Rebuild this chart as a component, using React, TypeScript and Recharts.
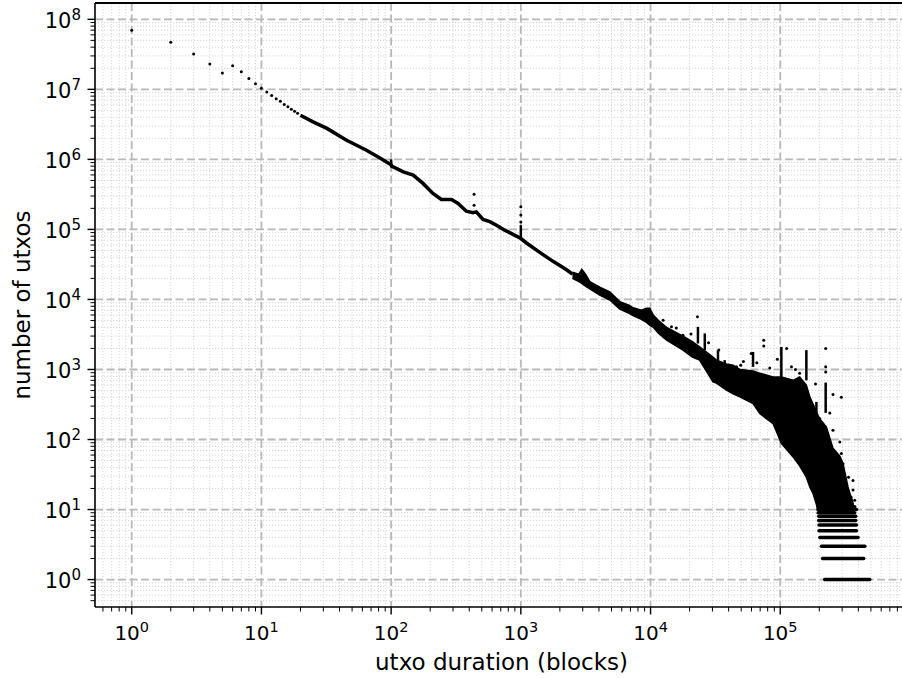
import {
  ComposedChart,
  Scatter,
  Line,
  Area,
  XAxis,
  YAxis,
  CartesianGrid,
  ReferenceLine,
} from "recharts";

const FONT = "DejaVu Sans, Verdana, sans-serif";

// axis limits (matplotlib style 5% log margins)
const X_MIN = 0.521;
const X_MAX = 966000;
const Y_MIN = 0.406;
const Y_MAX = 1.71e8;

const X_MAJOR = [1, 10, 100, 1000, 10000, 100000];
const X_EXP = ["0", "1", "2", "3", "4", "5"];
const Y_MAJOR = [1, 10, 100, 1000, 10000, 100000, 1e6, 1e7, 1e8];
const Y_EXP = ["0", "1", "2", "3", "4", "5", "6", "7", "8"];
const X_DECADES = [0.1, 1, 10, 100, 1000, 10000, 100000];
const Y_DECADES = [0.1, 1, 10, 100, 1000, 10000, 100000, 1e6, 1e7];
const MULTS = [2, 3, 4, 5, 6, 7, 8, 9];

const X_MINOR = X_DECADES.flatMap((d) => MULTS.map((m) => m * d)).filter((v) => v > X_MIN && v < X_MAX);
const Y_MINOR = Y_DECADES.flatMap((d) => MULTS.map((m) => m * d)).filter((v) => v > Y_MIN && v < Y_MAX);

// first durations, each one a separate dot
const EARLY_DUR = [1, 2, 3, 4, 5, 6, 7, 8, 9, 10, 11, 12, 13, 14, 15, 16, 17, 18, 19];
const EARLY_COUNT = [
  6.97e7, 4.7e7, 3.2e7, 2.3e7, 1.71e7, 2.17e7, 1.78e7, 1.43e7, 1.2e7, 1.04e7,
  9.15e6, 8.2e6, 7.35e6, 6.75e6, 6.1e6, 5.65e6, 5.2e6, 4.85e6, 4.55e6,
];

// dense part of the curve (dots merge into a thick line)
const TREND_DUR = [
  20, 25, 32, 45, 64, 82, 92, 100, 101, 124, 148, 176, 210, 244, 292, 328, 380, 428, 454,
  511, 576, 649, 751, 871, 1000, 1105, 1400, 1770, 2000, 2250, 2500,
];
const TREND_COUNT = [
  4.26e6, 3.44e6, 2.77e6, 1.89e6, 1.36e6, 1.05e6, 9.2e5, 8.4e5, 8.0e5, 6.65e5, 5.97e5,
  4.54e5, 3.27e5, 2.68e5, 2.68e5, 2.35e5, 1.82e5, 1.73e5, 1.78e5, 1.39e5, 1.29e5, 1.15e5,
  9.77e4, 8.49e4, 7.4e4, 6.4e4, 4.7e4, 3.5e4, 3.05e4, 2.65e4, 2.3e4,
];

// scattered cloud: lower / upper envelope
const CLOUD_DUR = [
  2500, 2800, 2950, 3150, 3400, 4060, 4850, 5790, 6900, 7330, 8500, 9290, 9860, 10500,
  11500, 13300, 17800, 21000, 23900, 30300, 32200, 38500, 43300, 48800, 61700, 69500,
  88000, 102000, 126000, 141000, 159000, 169000, 179000, 196000, 201000, 227000, 255000,
  288000, 305000, 333000, 364000,
];
const CLOUD_LOW = [
  2.0e4, 1.8e4, 1.7e4, 1.55e4, 1.42e4, 1.15e4, 9.8e3, 7.3e3, 6.3e3, 5.9e3, 5.2e3, 4.7e3,
  4.3e3, 4.0e3, 3.3e3, 2.62e3, 1.89e3, 1.5e3, 1.36e3, 665, 640, 506, 450, 406, 327, 235,
  169, 88, 56, 42, 29, 21, 17, 9.8, 9.5, 9.5, 9.5, 9.5, 9.5, 9.5, 9.5,
];
const CLOUD_HIGH = [
  2.45e4, 2.3e4, 2.7e4, 2.3e4, 1.8e4, 1.5e4, 1.28e4, 9.3e3, 8.2e3, 7.6e3, 7.0e3, 7.5e3,
  7.5e3, 6.0e3, 5.0e3, 4.0e3, 3.0e3, 2.5e3, 2.1e3, 1.5e3, 1.36e3, 1.2e3, 1.15e3, 1.0e3,
  950, 885, 784, 780, 700, 784, 600, 406, 320, 220, 200, 150, 75, 58, 45, 21, 12,
];

// vertical streaks
const SPIKE_DUR = [100, 1000, 23200, 26200, 33100, 37300, 61700, 102000, 159000, 190000, 224000];
const SPIKE_LOW = [8.0e5, 7.2e4, 2.35e3, 1.89e3, 1.22e3, 977, 1.09e3, 700, 700, 136, 240];
const SPIKE_HIGH = [1.0e6, 1.15e5, 4.06e3, 3.27e3, 1.89e3, 1.36e3, 1.78e3, 2.1e3, 1.89e3, 344, 650];

// isolated points above the cloud
const OUT_DUR = [
  436, 436, 1000, 1000, 1000, 23000, 12500, 14500, 17800, 33600, 38500, 45900, 49600,
  59700, 74600, 74600, 112000, 122000, 141000, 187000, 224000, 224000, 224000, 241000,
  255000, 296000, 255000, 288000, 201000, 200000, 296000, 305000, 364000, 364000, 375000,
  336000, 15800, 20500, 28000, 52000, 66000, 83000, 95000, 131000,
];
const OUT_COUNT = [
  3.19e5, 2.22e5, 2.1e5, 1.6e5, 1.28e5, 5.64e3, 5.06e3, 4.06e3, 3.09e3, 1.89e3, 1.15e3,
  1.09e3, 1.15e3, 1.69e3, 2.62e3, 2.17e3, 2.0e3, 1.09e3, 880, 620, 2.0e3, 1.09e3, 920,
  240, 440, 400, 136, 92, 200, 128, 63, 45, 26, 19, 13.6, 29, 3.9e3, 3.2e3, 2.4e3, 1.3e3,
  1.25e3, 1.05e3, 1.4e3, 1.0e3,
];

// integer counts in the tail form horizontal bands
const LEVELS = [1, 2, 3, 4, 5, 6, 7, 8, 9, 10, 11, 12, 13, 14, 15];
const LEVEL_START = [
  2.2e5, 2.12e5, 2.08e5, 2.02e5, 1.99e5, 1.99e5, 1.98e5, 1.98e5, 1.96e5, 1.95e5, 1.95e5,
  1.95e5, 1.94e5, 1.94e5, 1.94e5,
];
const LEVEL_END = [
  4.9e5, 4.4e5, 4.49e5, 3.98e5, 3.87e5, 3.87e5, 3.82e5, 3.82e5, 3.75e5, 3.87e5, 3.75e5,
  3.6e5, 3.55e5, 3.5e5, 3.5e5,
];

const early = EARLY_DUR.map((x, i) => ({ x, y: EARLY_COUNT[i] }));
const trend = TREND_DUR.map((x, i) => ({ x, y: TREND_COUNT[i] }));
const cloud = CLOUD_DUR.map((x, i) => ({ x, lo: CLOUD_LOW[i], hi: CLOUD_HIGH[i] }));
const outliers = OUT_DUR.map((x, i) => ({ x, y: OUT_COUNT[i] }));

const dot = (p: any) => <circle cx={p.cx} cy={p.cy} r={1.5} fill="#000" />;

function XTick(props: any) {
  const { x, y, payload } = props;
  const i = X_MAJOR.indexOf(payload.value);
  const major = i >= 0;
  return (
    <g>
      <line x1={x} x2={x} y1={y} y2={y + (major ? 7.5 : 4.5)} stroke="#000" strokeWidth={major ? 1.4 : 1} />
      {major && (
        <text x={x} y={y + 33} textAnchor="middle" fontFamily={FONT} fontSize={20} fill="#000">
          <tspan>10</tspan>
          <tspan dy={-8} fontSize={14.5}>{X_EXP[i]}</tspan>
        </text>
      )}
    </g>
  );
}

function YTick(props: any) {
  const { x, y, payload } = props;
  const i = Y_MAJOR.indexOf(payload.value);
  const major = i >= 0;
  return (
    <g>
      <line x1={x - (major ? 7.5 : 4.5)} x2={x} y1={y} y2={y} stroke="#000" strokeWidth={major ? 1.4 : 1} />
      {major && (
        <text x={x - 14} y={y + 8.5} textAnchor="end" fontFamily={FONT} fontSize={21} fill="#000">
          <tspan>10</tspan>
          <tspan dy={-8} fontSize={15}>{Y_EXP[i]}</tspan>
        </text>
      )}
    </g>
  );
}

export default function App() {
  return (
    <div
      style={{
        position: "absolute",
        left: 0,
        top: 0,
        width: 902,
        height: 678,
        overflow: "hidden",
        background: "#fff",
      }}
    >
      <ComposedChart width={920} height={678} margin={{ top: 3, right: 12, bottom: 0, left: 0 }}>
        <CartesianGrid
          verticalValues={X_MINOR}
          horizontalValues={Y_MINOR}
          stroke="#d4d4d4"
          strokeWidth={1}
          strokeDasharray="1.2 1.8"
        />
        <CartesianGrid
          verticalValues={X_MAJOR}
          horizontalValues={Y_MAJOR}
          stroke="#b8b8b8"
          strokeWidth={1.8}
          strokeDasharray="8 3.5"
        />
        <XAxis
          type="number"
          dataKey="x"
          scale="log"
          domain={[X_MIN, X_MAX]}
          allowDataOverflow
          ticks={[...X_MINOR, ...X_MAJOR]}
          interval={0}
          tick={<XTick />}
          tickLine={false}
          tickSize={0}
          tickMargin={0}
          height={71}
          axisLine={{ stroke: "#000", strokeWidth: 1.6 }}
          label={{
            value: "utxo duration (blocks)",
            position: "insideBottom",
            offset: 8,
            style: { fontFamily: FONT, fontSize: 23, fill: "#000" },
          }}
        />
        <YAxis
          type="number"
          dataKey="y"
          scale="log"
          domain={[Y_MIN, Y_MAX]}
          allowDataOverflow
          ticks={[...Y_MINOR, ...Y_MAJOR]}
          interval={0}
          tick={<YTick />}
          tickLine={false}
          tickSize={0}
          tickMargin={0}
          width={95}
          axisLine={{ stroke: "#000", strokeWidth: 1.6 }}
          label={{
            value: "number of utxos",
            angle: -90,
            position: "insideLeft",
            offset: 22,
            style: { fontFamily: FONT, fontSize: 23, fill: "#000", textAnchor: "middle" },
          }}
        />
        <ReferenceLine y={Y_MAX} stroke="#000" strokeWidth={2} ifOverflow="visible" />
        <Area
          data={cloud}
          dataKey={(d: any) => [d.lo, d.hi]}
          type="linear"
          stroke="#000"
          strokeWidth={1.5}
          fill="#000"
          fillOpacity={1}
          isAnimationActive={false}
        />
        <Line
          data={trend}
          dataKey="y"
          type="linear"
          stroke="#000"
          strokeWidth={3.5}
          dot={false}
          isAnimationActive={false}
        />
        {SPIKE_DUR.map((x, i) => (
          <Line
            key={"s" + i}
            data={[
              { x, y: SPIKE_LOW[i] },
              { x, y: SPIKE_HIGH[i] },
            ]}
            dataKey="y"
            stroke="#000"
            strokeWidth={2.5}
            dot={false}
            isAnimationActive={false}
          />
        ))}
        {LEVELS.map((lv, i) => (
          <Line
            key={"l" + i}
            data={[
              { x: LEVEL_START[i], y: lv },
              { x: LEVEL_END[i], y: lv },
            ]}
            dataKey="y"
            stroke="#000"
            strokeWidth={3.5}
            strokeLinecap="round"
            dot={false}
            isAnimationActive={false}
          />
        ))}
        <Scatter data={early} shape={dot} isAnimationActive={false} />
        <Scatter data={outliers} shape={dot} isAnimationActive={false} />
      </ComposedChart>
    </div>
  );
}
